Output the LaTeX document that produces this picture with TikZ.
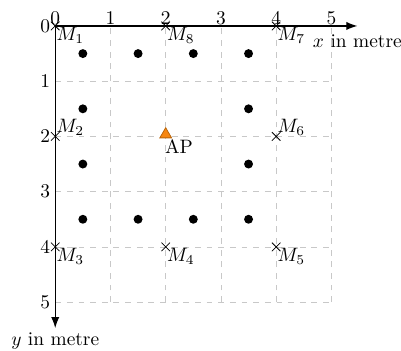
\documentclass[tikz,border=0pt]{standalone}
\usepackage{amsmath,amssymb}
\usepackage{tikz}
\usetikzlibrary{arrows.meta,positioning,shapes.geometric,shapes.misc}
\definecolor{GridGray}{HTML}{C8C8C8}
\definecolor{APOrange}{HTML}{F7860F}
\tikzset{
gridline/.style={dashed, draw=GridGray, thin},
axisline/.style={->, draw=black, semithick},
axislabel/.style={inner sep=2pt},
xtick/.style={anchor=south, inner sep=0.5pt},
ytick/.style={anchor=east, inner sep=2.5pt},
sensorpt/.style={circle, fill=black, inner sep=0pt, minimum size=4.6pt},
anchorpt/.style={cross out, draw=black, thin, inner sep=0pt, minimum size=4pt},
accesspt/.style={regular polygon, regular polygon sides=3, fill=APOrange, draw=APOrange!75!black, thin, inner sep=0pt, minimum size=7pt},
ptlabel/.style={inner sep=0.5pt}
}

\begin{document}
\begin{tikzpicture}[font=\normalsize, >=Latex, x=1cm, y=-1cm]
  \useasboundingbox (-1.0,-0.47) rectangle (6.26,5.88);
  % grid and axes
  \coordinate (origin) at (0,0);
  \coordinate (xend) at (5.47,0);
  \coordinate (yend) at (0,5.47);
  \draw[gridline] (origin) grid (5,5);
  \draw[axisline] (origin) -- (xend);
  \draw[axisline] (origin) -- (yend);
  \node[axislabel, inner sep=3pt, below=1.5pt of xend] (xlabel) {$x$ in metre};
  \node[axislabel, below=0pt of yend] (ylabel) {$y$ in metre};
  \node[xtick] (xt0) at (0,0) {0};
  \node[xtick] (xt1) at (1,0) {1};
  \node[xtick] (xt2) at (2,0) {2};
  \node[xtick] (xt3) at (3,0) {3};
  \node[xtick] (xt4) at (4,0) {4};
  \node[xtick] (xt5) at (5,0) {5};
  \node[ytick] (yt0) at (0,0) {0};
  \node[ytick] (yt1) at (0,1) {1};
  \node[ytick] (yt2) at (0,2) {2};
  \node[ytick] (yt3) at (0,3) {3};
  \node[ytick] (yt4) at (0,4) {4};
  \node[ytick] (yt5) at (0,5) {5};
  % sensor positions
  \node[sensorpt] (s1) at (0.5,0.5) {};
  \node[sensorpt] (s2) at (1.5,0.5) {};
  \node[sensorpt] (s3) at (2.5,0.5) {};
  \node[sensorpt] (s4) at (3.5,0.5) {};
  \node[sensorpt] (s5) at (0.5,1.5) {};
  \node[sensorpt] (s6) at (3.5,1.5) {};
  \node[sensorpt] (s7) at (0.5,2.5) {};
  \node[sensorpt] (s8) at (3.5,2.5) {};
  \node[sensorpt] (s9) at (0.5,3.5) {};
  \node[sensorpt] (s10) at (1.5,3.5) {};
  \node[sensorpt] (s11) at (2.5,3.5) {};
  \node[sensorpt] (s12) at (3.5,3.5) {};
  % measurement points
  \node[anchorpt] (M1) at (0,0) {};
  \node[anchorpt] (M2) at (0,2) {};
  \node[anchorpt] (M3) at (0,4) {};
  \node[anchorpt] (M4) at (2,4) {};
  \node[anchorpt] (M5) at (4,4) {};
  \node[anchorpt] (M6) at (4,2) {};
  \node[anchorpt] (M7) at (4,0) {};
  \node[anchorpt] (M8) at (2,0) {};
  \node[ptlabel, below right=0pt of M1.center] (m1lbl) {$M_1$};
  \node[ptlabel, above right=0pt of M2.center] (m2lbl) {$M_2$};
  \node[ptlabel, below right=0pt of M3.center] (m3lbl) {$M_3$};
  \node[ptlabel, below right=0pt of M4.center] (m4lbl) {$M_4$};
  \node[ptlabel, below right=0pt of M5.center] (m5lbl) {$M_5$};
  \node[ptlabel, above right=0pt of M6.center] (m6lbl) {$M_6$};
  \node[ptlabel, below right=0pt of M7.center] (m7lbl) {$M_7$};
  \node[ptlabel, below right=0pt of M8.center] (m8lbl) {$M_8$};
  % access point
  \node[accesspt, yshift=1pt] (ap) at (2,2) {};
  \node[ptlabel, below right=0pt and -1pt of ap.south] (aplbl) {AP};
\end{tikzpicture}
\end{document}
